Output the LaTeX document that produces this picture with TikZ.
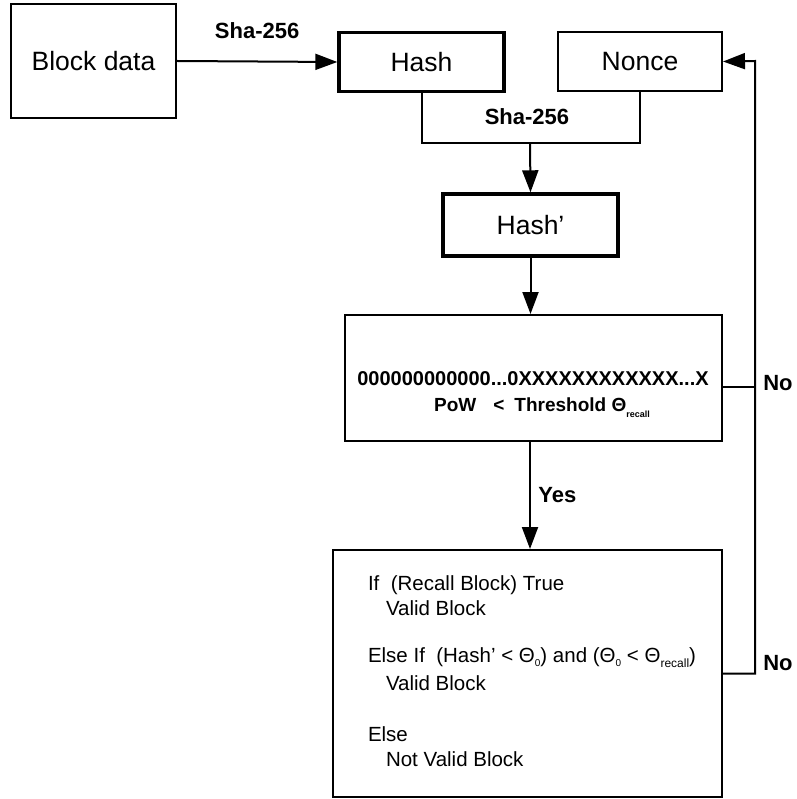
\documentclass[tikz,border=0pt]{standalone}
\usepackage{fontspec}
\setmainfont{Liberation Sans}
\usetikzlibrary{calc,arrows.meta}
\newcommand{\thetasub}[3]{Θ\raisebox{-#1}{\fontsize{#2}{#2}\selectfont #3}}

\begin{document}
\begin{tikzpicture}[x=1pt,y=-1pt,>={Triangle[length=22pt,width=16pt]},
    line width=2pt,
    box/.style={rectangle,draw,line width=2pt,font=\fontsize{26.5}{30}\selectfont},
    thickbox/.style={box,line width=3.4pt},
    lbl/.style={font=\fontsize{22}{26}\selectfont\bfseries}]
       \useasboundingbox (0,0) rectangle (796,799);
       \node (blockdata) at (93.5,61) [box,minimum width=165pt,minimum height=114pt]{Block data};
       \node (hash) at (421.5,62) [thickbox,minimum width=165pt,minimum height=59pt]{Hash};
       \node (nonce) at (640,61.5) [box,minimum width=164pt,minimum height=59pt]{Nonce};
       \node (hashp) at (530.5,225) [thickbox,minimum width=175pt,minimum height=62pt]{Hash’};
       \node (pow) at (533.5,378) [box,minimum width=377pt,minimum height=126pt]{};
       \node (result) at (527.5,673.5) [box,minimum width=389pt,minimum height=247pt]{};
       \coordinate (merge) at (530,143);
       \coordinate (back) at (755,61);
       % text inside the test box
       \node (powbits) at (533,379) [font=\fontsize{20}{24}\selectfont\bfseries]
             {000000000000...0XXXXXXXXXXXX...X};
       \node (powrule) at (542,408) [font=\fontsize{19}{22}\selectfont\bfseries]
             {PoW\hspace{17pt}<\hspace{10pt}Threshold \thetasub{6pt}{9}{recall}};
       \node (rule) at (367,575) [anchor=north west,align=left,inner sep=0pt,
                                  font=\fontsize{20.5}{25}\selectfont]
             {If~~(Recall Block) True\\
              \hspace*{18pt}Valid Block\\[22pt]
              Else If~~(Hash' < \thetasub{4pt}{10}{0}) and (\thetasub{4pt}{10}{0} < \thetasub{5pt}{12}{recall})\\[3pt]
              \hspace*{18pt}Valid Block\\[26pt]
              Else\\
              \hspace*{18pt}Not Valid Block};
       % connectors
       \draw [->] (blockdata.east) -- (hash.west) node[lbl,midway,above=18pt]{Sha-256};
       \draw (hash.south) |- (merge) -| (nonce.south);
       \node (shatwo) at (527,117) [lbl]{Sha-256};
       \draw [->] (merge) -- (hashp.north);
       \draw [->] (hashp.south) -- (hashp.south |- pow.north);
       \draw [->] (pow.south -| merge) -- (result.north -| merge) node[lbl,midway,right=4pt]{Yes};
       \draw [->] (result.east) -| (back) -- (nonce.east);
       \draw ($(pow.east)+(0,9)$) -- ($(pow.east -| back)+(0,9)$);
       \node (noone) at (778,383) [lbl]{No};
       \node (notwo) at (778,663) [lbl]{No};
     \end{tikzpicture}
\end{document}
